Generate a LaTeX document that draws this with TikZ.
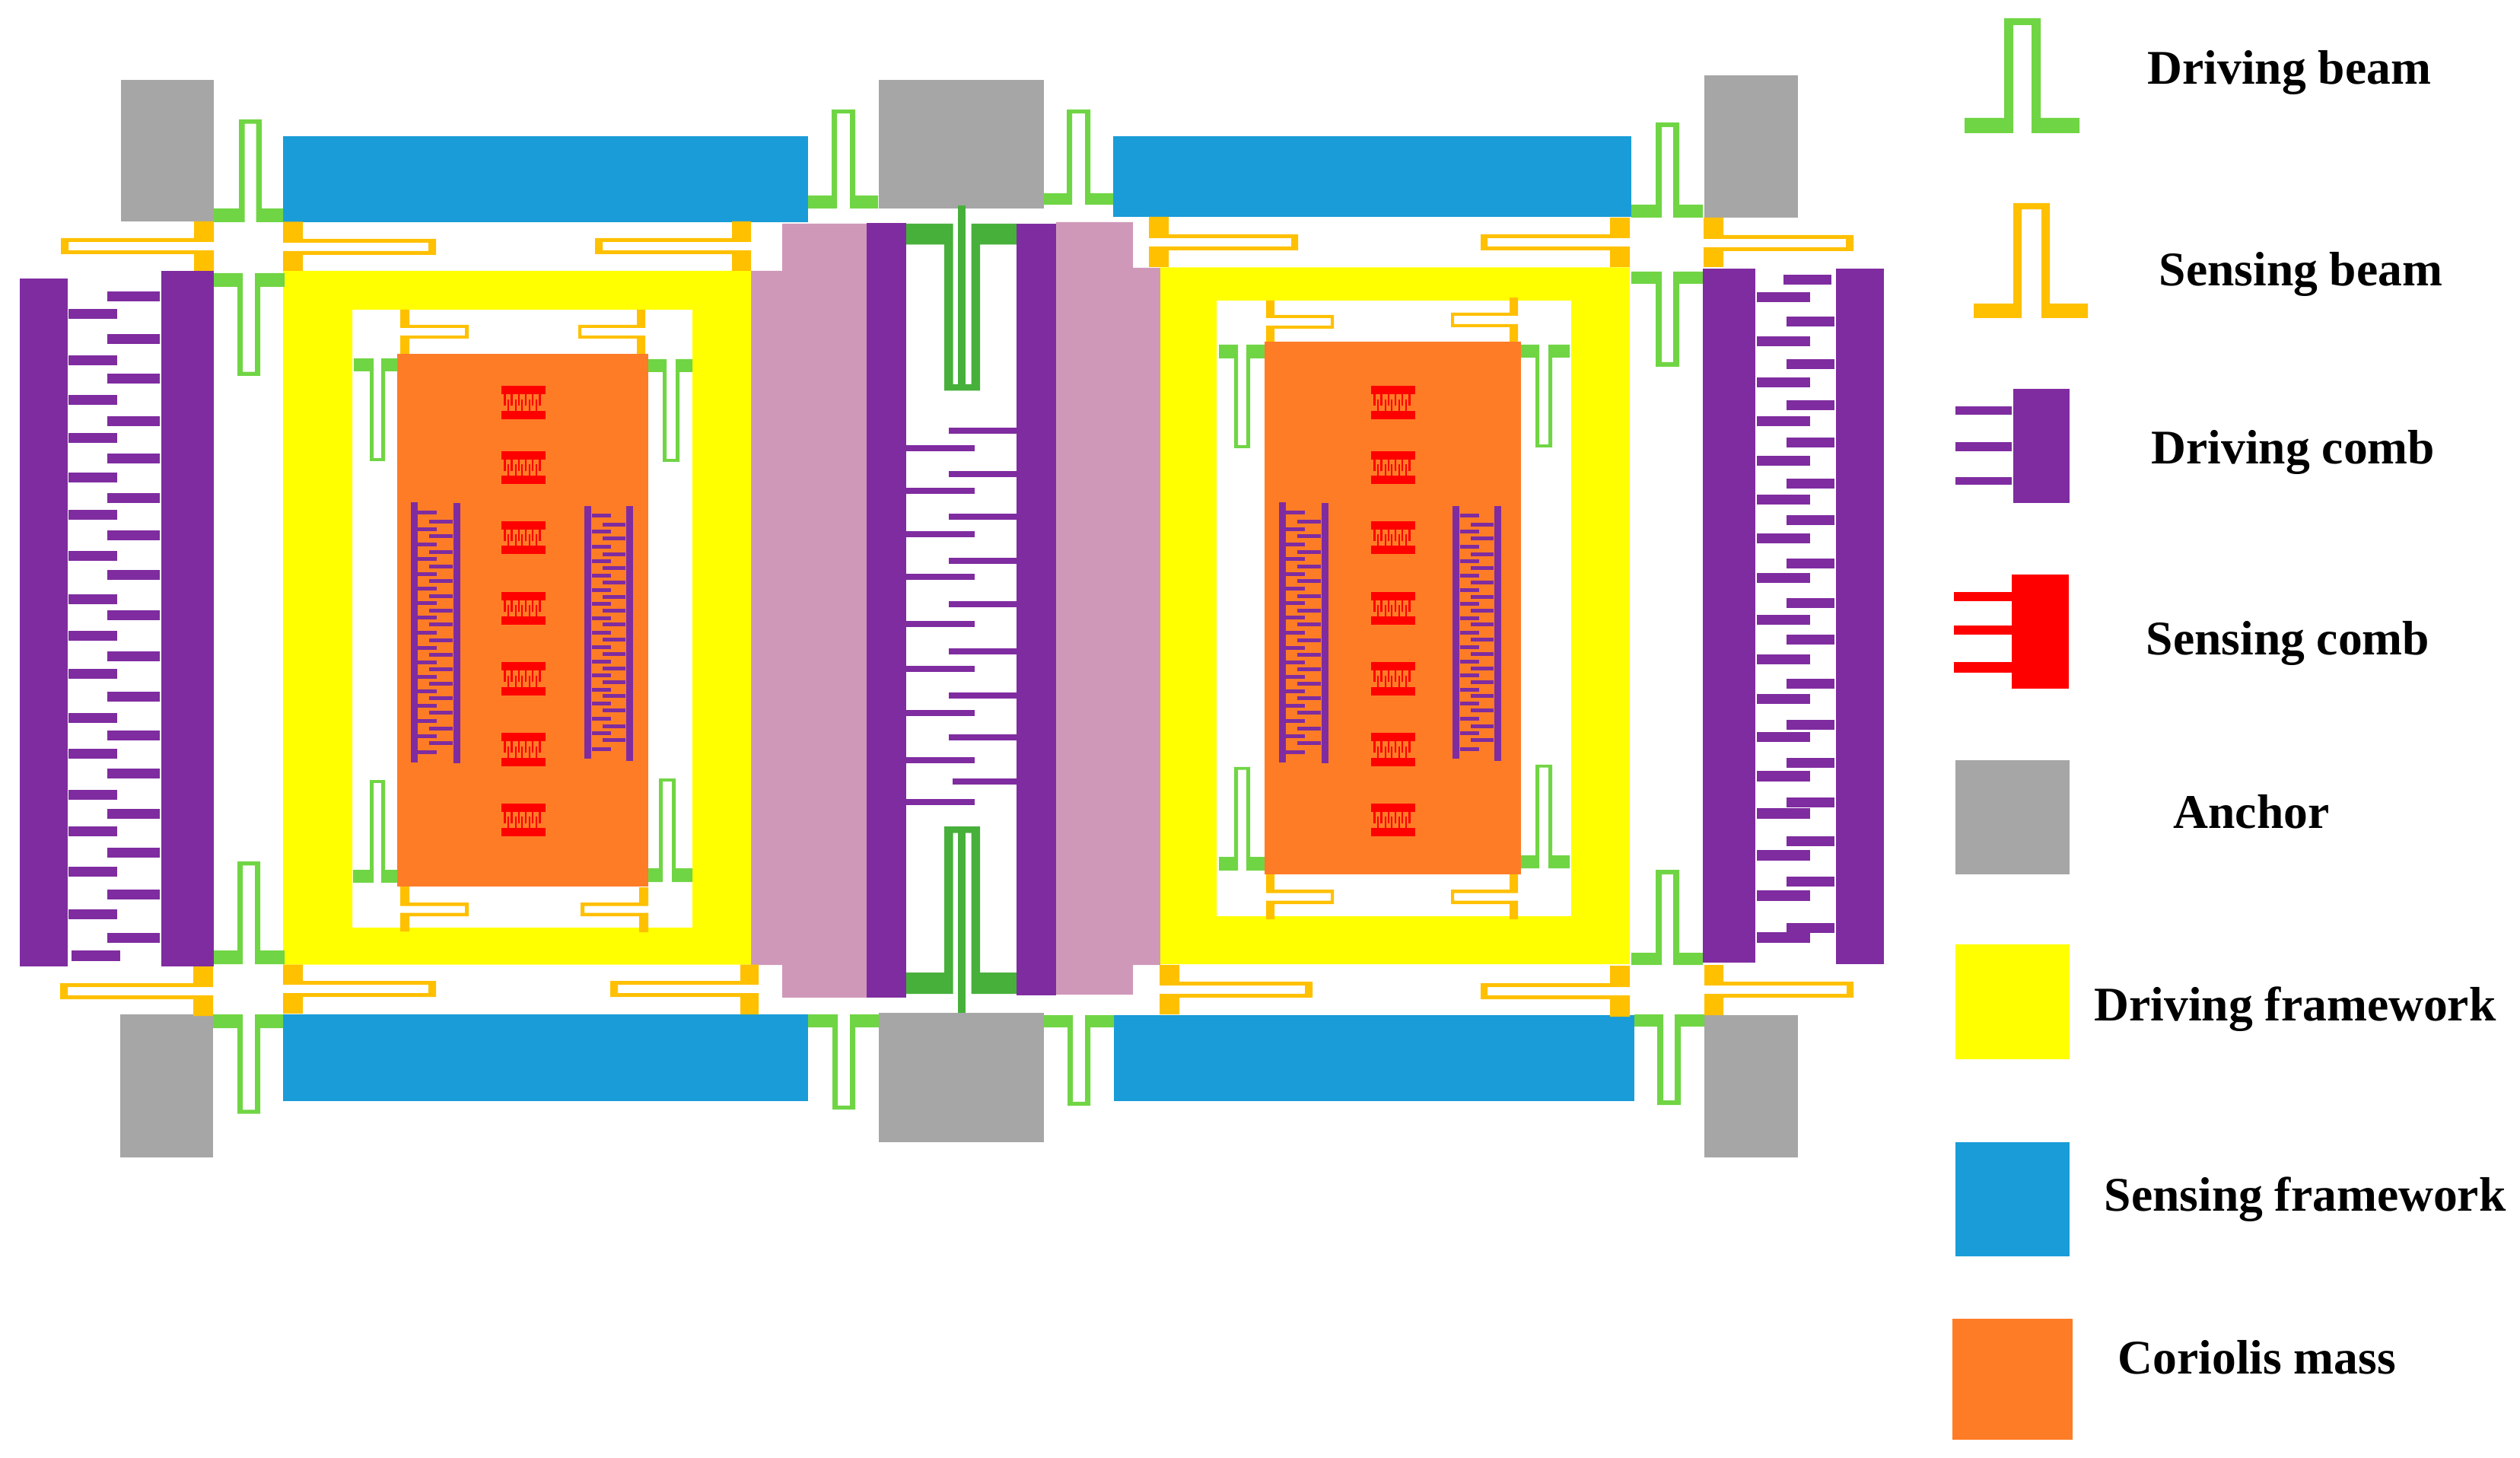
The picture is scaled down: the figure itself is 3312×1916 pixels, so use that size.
\documentclass[tikz,border=0pt]{standalone}
\usepackage{fontspec}
\setmainfont{Liberation Serif}
\usepackage{xcolor}

\definecolor{drivegreen}{HTML}{70D544}
\definecolor{darkgreen}{HTML}{47B03B}
\definecolor{senseamber}{HTML}{FFC000}
\definecolor{combpurple}{HTML}{7F2CA0}
\definecolor{anchorgray}{HTML}{A6A6A6}
\definecolor{frameblue}{HTML}{1A9CD8}
\definecolor{massorange}{HTML}{FF7C27}
\definecolor{linkpink}{HTML}{CF98B9}
\definecolor{frameyellow}{RGB}{255,255,0}
\definecolor{combred}{RGB}{255,0,0}

\tikzset{
    drivebeam/.style={fill=drivegreen},
    linkbeam/.style={fill=darkgreen},
    sensebeam/.style={fill=senseamber},
    drivecomb/.style={fill=combpurple},
    sensecomb/.style={fill=combred},
    anchorblock/.style={fill=anchorgray},
    drivingframe/.style={fill=frameyellow, even odd rule},
    sensingframe/.style={fill=frameblue},
    coriolis/.style={fill=massorange},
    linkblock/.style={fill=linkpink},
    legendtext/.style={inner sep=0pt, anchor=base west, font=\fontsize{18.07}{20}\selectfont\bfseries}
}

% style, foot ends xa xd, loop sides xb xc, ybase, yfoot, ytip, wall
\newcommand{\ubeam}[9]{%
    \pgfmathsetmacro{\tipin}{#8+0.75*#9*sign(#6-#8)}
    \fill[#1] (#2,#6) -- (#2,#7) -- (#3,#7) -- (#3,#8) -- (#4,#8) -- (#4,#7) -- (#5,#7) -- (#5,#6)
        -- (#4-#9,#6) -- (#4-#9,\tipin) -- (#3+#9,\tipin) -- (#3+#9,#6) -- cycle;
}
% xbase, xfoot, xtip, tip width, ya, yb, yc, yd, wall
\newcommand{\hbeam}[9]{%
    \pgfmathsetmacro{\tipin}{#3+#4*sign(#1-#3)}
    \fill[sensebeam] (#1,#5) -- (#2,#5) -- (#2,#6) -- (#3,#6) -- (#3,#7) -- (#2,#7) -- (#2,#8) -- (#1,#8)
        -- (#1,#7-#9) -- (\tipin,#7-#9) -- (\tipin,#6+#9) -- (#1,#6+#9) -- cycle;
}
% x, top bar y, bottom bar y
\newcommand{\senserow}[3]{%
    \fill[sensecomb] (#1,#2) rectangle ++(58,11);
    \fill[sensecomb] (#1,#3) rectangle ++(58,11);
    \foreach \tx in {4.5,13.5,23,32,41,50.5}
        \fill[sensecomb] (#1+\tx-1.1,#2+11) rectangle ++(2.2,15);
    \foreach \tx in {9,19,27,37,46}
        \fill[sensecomb] (#1+\tx-1.1,#3) rectangle ++(2.2,-15);
}
\newcommand{\ladderleft}[1]{%
    \fill[drivecomb] (#1+540,660) rectangle (#1+549,1002);
    \fill[drivecomb] (#1+596,661) rectangle (#1+605,1003);
    \foreach \y in {674,696,716,735,755,774,793,812,832,852,871,890,909,928,948,968,989}
        \fill[drivecomb] (#1+549,\y-2.5) rectangle (#1+574,\y+2.5);
    \foreach \y in {686,705,726,745,764,784,803,821,842,861,880,899,918,937,958,977}
        \fill[drivecomb] (#1+564,\y-2.5) rectangle (#1+595,\y+2.5);
}
\newcommand{\ladderright}[1]{%
    \fill[drivecomb] (#1+768,665) rectangle (#1+777,997);
    \fill[drivecomb] (#1+823,665) rectangle (#1+832,1000);
    \foreach \y in {678,699,719,738,757,776,794,813,832,851,870,888,907,925,945,964,985}
        \fill[drivecomb] (#1+778,\y-2.5) rectangle (#1+803,\y+2.5);
    \foreach \y in {690,708,729,747,766,785,803,821,841,860,879,897,915,934,955,973}
        \fill[drivecomb] (#1+792,\y-2.5) rectangle (#1+822,\y+2.5);
}

\begin{document}
\begin{tikzpicture}[x=0.01cm, y=-0.01cm]
    \useasboundingbox (0,0) rectangle (3312,1916);

    \fill[anchorblock] (159,105) rectangle (281,291.5);
    \fill[anchorblock] (158,1333) rectangle (280,1521);
    \fill[anchorblock] (1155,105) rectangle (1372,274);
    \fill[anchorblock] (1155,1331) rectangle (1372,1501);
    \fill[anchorblock] (2240,99) rectangle (2363,286);
    \fill[anchorblock] (2240,1334) rectangle (2363,1521);

    \fill[sensingframe] (372,179) rectangle (1062,292);
    \fill[sensingframe] (372,1333) rectangle (1062,1447);
    \fill[sensingframe] (1463,179) rectangle (2144,285.5);
    \fill[sensingframe] (1464,1334) rectangle (2148,1447);

    \fill[linkblock] (987,356) -- (1028,356) -- (1028,294) -- (1139,294) -- (1139,1311) -- (1028,1311) -- (1028,1268) -- (987,1268) -- cycle;
    \fill[linkblock] (1388,292) -- (1489,292) -- (1489,352) -- (1525,352) -- (1525,1268) -- (1489,1268) -- (1489,1307) -- (1388,1307) -- cycle;

    \fill[drivingframe] (372,356) rectangle (987,1267.5) (463,407) rectangle (910,1219);
    \fill[drivingframe] (1525,351.5) rectangle (2142,1267) (1599,395) rectangle (2065,1204);

    \ubeam{drivebeam}{281}{314}{344}{372}{292}{274}{157}{7.5}
    \ubeam{drivebeam}{280}{312}{342}{374}{359}{377}{494}{7}
    \ubeam{drivebeam}{280}{312}{342}{374}{1267}{1249}{1132}{7}
    \ubeam{drivebeam}{280}{312}{342}{372}{1333}{1351}{1463.5}{7}
    \ubeam{drivebeam}{1062}{1093}{1124}{1154}{274}{257}{144}{7}
    \ubeam{drivebeam}{1371}{1402}{1433}{1463}{269}{254}{144}{7}
    \ubeam{drivebeam}{1062}{1094}{1124}{1155}{1333}{1350}{1458}{7}
    \ubeam{drivebeam}{1371}{1403}{1433}{1464}{1334}{1350}{1453}{7}
    \ubeam{drivebeam}{2144}{2176}{2207}{2238}{286}{269}{161}{8}
    \ubeam{drivebeam}{2144}{2176}{2207}{2238}{357}{373}{482}{8}
    \ubeam{drivebeam}{2144}{2176}{2207}{2238}{1268}{1252}{1143}{8}
    \ubeam{drivebeam}{2148}{2178}{2209}{2240}{1333}{1349}{1452}{8}

    \ubeam{drivebeam}{465}{486}{506}{522}{471}{488}{606}{5}
    \ubeam{drivebeam}{852}{871}{893}{910}{472}{489}{607}{5}
    \ubeam{drivebeam}{464}{486}{506}{522}{1160}{1143}{1025}{5}
    \ubeam{drivebeam}{852}{866}{888}{910}{1159}{1141}{1023}{5}
    \ubeam{drivebeam}{1602}{1622}{1643}{1662}{453}{471}{589}{5}
    \ubeam{drivebeam}{1999}{2018}{2040}{2063}{453}{470}{588}{5}
    \ubeam{drivebeam}{1602}{1622}{1643}{1662}{1144}{1126}{1008}{5}
    \ubeam{drivebeam}{1999}{2018}{2040}{2063}{1141}{1124}{1005}{5}

    \ubeam{linkbeam}{1191}{1241}{1288}{1336}{294}{321.5}{513.5}{11.5}
    \ubeam{linkbeam}{1191}{1241}{1288}{1336}{1306}{1278}{1086}{11.5}
    \fill[linkbeam] (1259,270) rectangle (1269,505);
    \fill[linkbeam] (1259,1094) rectangle (1269,1331);

    \fill[coriolis] (522,465) rectangle (852,1165);
    \fill[coriolis] (1662,449) rectangle (1999,1149);

    \hbeam{281}{255}{80}{10}{291}{313}{334}{356}{5}
    \hbeam{372}{398}{573}{10}{291.5}{314}{335}{356}{5}
    \hbeam{987}{962}{782}{10}{291}{313}{334}{356}{5}
    \hbeam{280}{254}{79}{10}{1270}{1292}{1313}{1335}{5}
    \hbeam{372}{398}{573}{10}{1267.5}{1289}{1310}{1332}{5}
    \hbeam{997}{973}{802}{10}{1267.5}{1289}{1310}{1333}{5}
    \hbeam{1510}{1536}{1706}{9}{285}{308}{329}{351}{5}
    \hbeam{2142}{2116}{1946}{9}{286}{308}{329}{351}{5}
    \hbeam{2239}{2265}{2436}{10}{286}{309}{330}{351}{5}
    \hbeam{1524}{1550}{1725}{10}{1268}{1290}{1311}{1333}{5}
    \hbeam{2142}{2116}{1946}{9}{1269}{1292}{1313}{1336}{5}
    \hbeam{2240}{2265}{2436}{9}{1268}{1290}{1311}{1334}{5}

    \hbeam{526}{538}{616}{5}{407}{427}{445}{465}{4}
    \hbeam{848}{837}{760}{4}{407}{427}{445}{465}{4}
    \hbeam{526}{538}{616}{5}{1165}{1186}{1204}{1224}{4.5}
    \hbeam{852}{840}{763}{5}{1166}{1186}{1204}{1225}{4.5}
    \hbeam{1664}{1675}{1753}{4}{395}{414}{432}{449}{4}
    \hbeam{1995}{1984}{1907}{4}{391}{411}{430}{449}{4}
    \hbeam{1664}{1675}{1753}{4}{1149}{1169}{1188}{1208}{4.5}
    \hbeam{1995}{1984}{1907}{4}{1149}{1169}{1188}{1208}{4.5}

    \fill[drivecomb] (26,366) rectangle (89,1269.5);
    \fill[drivecomb] (212,356.5) rectangle (281,1269.5);
    \foreach \y in {383,439,491,547,596,648,697,749,802,856,909,960,1010,1063,1114,1169,1226}
        \fill[drivecomb] (141,\y) rectangle (210,\y+13);
    \foreach \y in {406,467,519,569,621,670,724,781,829,879,937,984,1038,1086,1139,1195}
        \fill[drivecomb] (90,\y) rectangle (154,\y+13);
    \fill[drivecomb] (94,1249) rectangle (158,1263);

    \fill[drivecomb] (1139,293) rectangle (1191,1311);
    \fill[drivecomb] (1336,294) rectangle (1388,1308);
    \foreach \y in {585,641,698,754,816,875,933,995,1050}
        \fill[drivecomb] (1191,\y) rectangle (1281,\y+8);
    \foreach \y in {562,619,675,733,790,852,910,965}
        \fill[drivecomb] (1247,\y) rectangle (1336,\y+8);
    \fill[drivecomb] (1252,1023) rectangle (1336,1031);

    \fill[drivecomb] (2238,353) rectangle (2307,1265);
    \fill[drivecomb] (2413,353) rectangle (2476,1267);
    \fill[drivecomb] (2344,361) rectangle (2407,374);
    \foreach \y in {416,472,526,575,629,677,734,786,834,892,946,996,1048,1099,1152,1213}
        \fill[drivecomb] (2348,\y) rectangle (2411,\y+13);
    \foreach \y in {384,442,496,547,599,650,701,753,808,860,912,962,1013,1062,1117,1170,1225}
        \fill[drivecomb] (2309,\y) rectangle (2379,\y+13.5);

    \ladderleft{0}
    \ladderright{0}
    \ladderleft{1141}
    \ladderright{1141}

    \senserow{659}{507}{540}
    \senserow{659}{593}{625}
    \senserow{659}{685}{717}
    \senserow{659}{778}{810}
    \senserow{659}{870}{903}
    \senserow{659}{963}{996}
    \senserow{659}{1056}{1088}
    \senserow{1802}{507}{540}
    \senserow{1802}{593}{625}
    \senserow{1802}{685}{717}
    \senserow{1802}{778}{810}
    \senserow{1802}{870}{903}
    \senserow{1802}{963}{996}
    \senserow{1802}{1056}{1088}

    \ubeam{drivebeam}{2582}{2634}{2682}{2733}{175}{155}{24}{12}
    \ubeam{sensebeam}{2594}{2646}{2694}{2744}{418}{399}{267}{11}
    \fill[drivecomb] (2646,511) rectangle (2720,661);
    \fill[drivecomb] (2570,534) rectangle (2644,545);
    \fill[drivecomb] (2570,581) rectangle (2644,593);
    \fill[drivecomb] (2570,627) rectangle (2644,637);
    \fill[sensecomb] (2644,755) rectangle (2719,905);
    \fill[sensecomb] (2568,778) rectangle (2644,790);
    \fill[sensecomb] (2568,822) rectangle (2644,834);
    \fill[sensecomb] (2568,870) rectangle (2644,884);
    \fill[anchorblock] (2570,999) rectangle (2720,1149);
    \fill[fill=frameyellow] (2570,1241) rectangle (2720,1392);
    \fill[sensingframe] (2570,1501) rectangle (2720,1651);
    \fill[coriolis] (2566,1733) rectangle (2724,1892);

    \node[legendtext] (drivingbeam) at (2822,111) {Driving beam};
    \node[legendtext] (sensingbeam) at (2837,376) {Sensing beam};
    \node[legendtext] (drivingcomb) at (2827,610) {Driving comb};
    \node[legendtext] (sensingcomb) at (2820,861) {Sensing comb};
    \node[legendtext] (anchorlabel) at (2856,1088) {Anchor};
    \node[legendtext] (drivingframework) at (2752,1341) {Driving framework};
    \node[legendtext] (sensingframework) at (2765,1591) {Sensing framework};
    \node[legendtext] (coriolismass) at (2783,1805) {Coriolis mass};
\end{tikzpicture}
\end{document}
